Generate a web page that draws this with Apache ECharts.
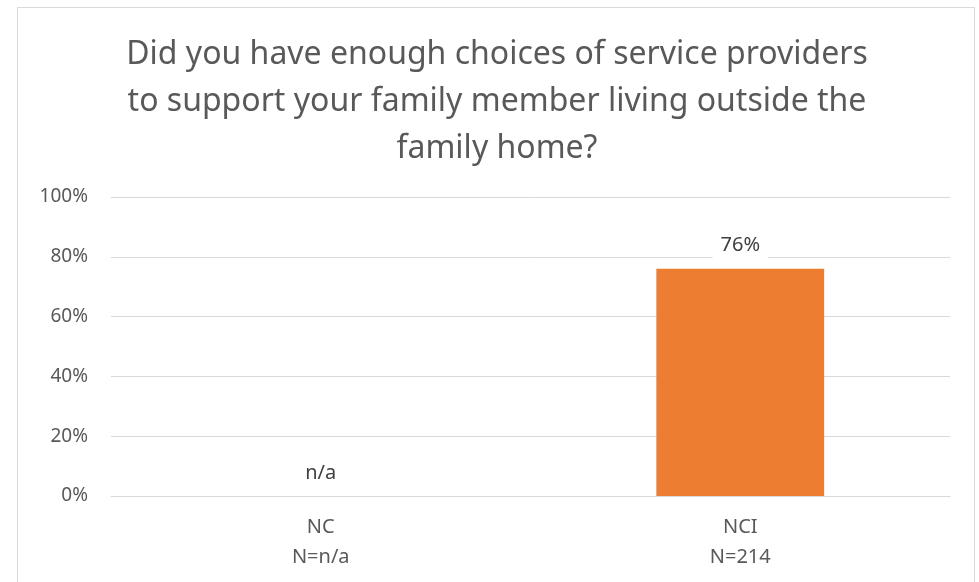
<!DOCTYPE html>
<html>
<head>
<meta charset="utf-8" />
<title>Service provider choices</title>
<style>html,body{margin:0;padding:0;background:#fff}#chart{width:979px;height:582px}</style>
<script src="https://cdn.jsdelivr.net/npm/echarts@6/dist/echarts.min.js"></script>
</head>
<body>
<div id="chart"></div>
<script>
// data
const categories = ["NC\nN=n/a", "NCI\nN=214"];
const values = [0, 76];              // NC has no data, shown as n/a
const valueLabels = ["n/a", "76%"];
const yTicks = [0, 20, 40, 60, 80, 100];

const gray = "#595959";
const font = "'Noto Sans', 'Open Sans', sans-serif";

const chart = echarts.init(document.getElementById("chart"), null, { renderer: "canvas" });
chart.setOption({
  animation: false,
  backgroundColor: "#fff",
  graphic: [{
    type: "rect",
    shape: { x: 17.5, y: 7.5, width: 957, height: 600 },
    style: { fill: "none", stroke: "#d9d9d9", lineWidth: 1 },
    silent: true,
  }],
  title: {
    text: "Did you have enough choices of service providers\nto support your family member living outside the\nfamily home?",
    left: 492,
    textAlign: "center",
    top: 26,
    textStyle: { color: gray, fontFamily: font, fontWeight: 400, fontSize: 32, lineHeight: 47, align: "center" },
  },
  grid: { left: 111, right: 29, top: 197, bottom: 86 },
  xAxis: {
    type: "category",
    data: categories,
    axisLine: { lineStyle: { color: "#d9d9d9" } },
    axisTick: { show: false },
    axisLabel: { color: gray, fontFamily: font, fontSize: 20, lineHeight: 30, margin: 16 },
  },
  yAxis: {
    type: "value",
    min: yTicks[0],
    max: yTicks[yTicks.length - 1],
    interval: 20,
    axisLine: { show: false },
    axisTick: { show: false },
    splitLine: { lineStyle: { color: "#d9d9d9" } },
    axisLabel: { color: gray, fontFamily: font, fontSize: 19, margin: 23, formatter: (v) => v + "%" },
  },
  series: [{
    type: "bar",
    data: values,
    barWidth: "40%",
    itemStyle: { color: "#ED7D31" },
    label: {
      show: true,
      position: "top",
      distance: 10,
      formatter: (p) => valueLabels[p.dataIndex],
      color: "#404040",
      fontFamily: font,
      fontSize: 20,
      backgroundColor: "#fff",
      padding: [3, 8],
    },
  }],
});
</script>
</body>
</html>
